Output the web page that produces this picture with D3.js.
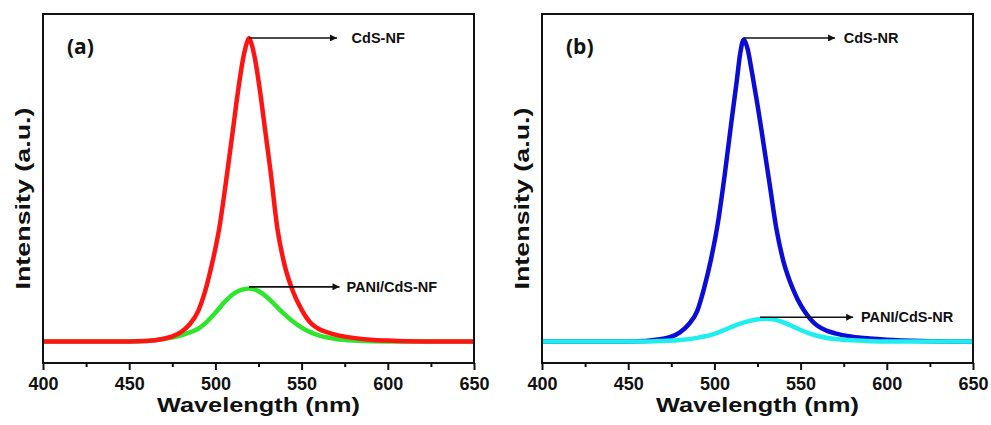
<!DOCTYPE html>
<html>
<head>
<meta charset="utf-8">
<script src="https://cdn.jsdelivr.net/npm/d3@7"></script>
<style>
  body { margin: 0; background: #fff; }
</style>
</head>
<body>
<svg id="chart"></svg>
<script>
// Panel (a): CdS nanoflowers
const nfRedX = [400, 420, 440, 460, 470, 475, 480, 485, 490, 494, 498, 502, 506, 510, 513, 516, 518, 519.5, 521, 523, 526, 529, 532, 536, 540, 545, 550, 553, 556, 560, 565, 570, 580, 590, 600, 620, 650];
const nfRedY = [0, 0, 0, 0.002, 0.009, 0.017, 0.031, 0.056, 0.10, 0.165, 0.255, 0.365, 0.52, 0.69, 0.82, 0.93, 0.98, 1.0, 0.98, 0.93, 0.82, 0.69, 0.56, 0.37, 0.255, 0.165, 0.105, 0.077, 0.057, 0.041, 0.03, 0.022, 0.012, 0.006, 0.003, 0, 0];
const nfGreenX = [400, 440, 460, 470, 480, 485, 490, 495, 500, 505, 510, 515, 520, 525, 530, 535, 540, 545, 550, 555, 560, 570, 580, 600, 650];
const nfGreenY = [0, 0, 0.002, 0.008, 0.02, 0.03, 0.042, 0.065, 0.095, 0.128, 0.155, 0.17, 0.175, 0.166, 0.146, 0.118, 0.09, 0.066, 0.046, 0.031, 0.02, 0.008, 0.003, 0, 0];

// Panel (b): CdS nanorods
const nrBlueX = [400, 440, 460, 465, 470, 475, 480, 485, 490, 494, 498, 502, 506, 510, 513, 515, 517, 519, 522, 525, 528, 532, 536, 540, 544, 548, 552, 556, 560, 565, 570, 580, 590, 600, 620, 650];
const nrBlueY = [0, 0, 0.002, 0.005, 0.009, 0.016, 0.03, 0.056, 0.10, 0.175, 0.27, 0.39, 0.55, 0.73, 0.86, 0.95, 0.995, 0.97, 0.88, 0.78, 0.67, 0.52, 0.37, 0.265, 0.195, 0.142, 0.102, 0.072, 0.051, 0.036, 0.027, 0.016, 0.01, 0.006, 0.002, 0];
const nrCyanX = [400, 460, 470, 480, 490, 500, 505, 510, 515, 520, 525, 530, 535, 540, 545, 550, 555, 560, 570, 580, 600, 650];
const nrCyanY = [0, 0, 0.002, 0.005, 0.012, 0.025, 0.036, 0.048, 0.059, 0.067, 0.073, 0.075, 0.072, 0.063, 0.051, 0.038, 0.027, 0.018, 0.008, 0.004, 0, 0];

// Axis ticks and labels
const majorTicks = [400, 450, 500, 550, 600, 650];
const minorTicks = [425, 475, 525, 575, 625];

// Annotations: label, arrow start (wavelength, intensity), arrow end wavelength, text wavelength
const nfLabels = ["CdS-NF", "PANI/CdS-NF"];
const nfArrowFrom = [[519.5, 1.0], [519.5, 0.18]];
const nfArrowTo = [570.5, 572];
const nfTextAt = [579, 576];

const nrLabels = ["CdS-NR", "PANI/CdS-NR"];
const nrArrowFrom = [[517, 1.0], [526.5, 0.08]];
const nrArrowTo = [570, 580.5];
const nrTextAt = [575, 585];

const width = 991, height = 425;
const plotTop = 14, plotBottom = 363, plotW = 431;
const font = "'Liberation Sans', Arial, sans-serif";

const svg = d3.select("#chart")
  .attr("width", width)
  .attr("height", height)
  .style("background", "#fff");

const defs = svg.append("defs");
defs.append("marker")
  .attr("id", "arrow")
  .attr("viewBox", "0 0 10 10")
  .attr("refX", 10)
  .attr("refY", 5)
  .attr("markerWidth", 10)
  .attr("markerHeight", 7)
  .attr("markerUnits", "userSpaceOnUse")
  .attr("orient", "auto")
  .append("path")
  .attr("d", "M0,0 L10,5 L0,10 z")
  .attr("fill", "#111");

function drawPanel(left, id, letter, series, labels, arrowFrom, arrowTo, textAt) {
  const x = d3.scaleLinear().domain([400, 650]).range([left, left + plotW]);
  const y = d3.scaleLinear().domain([-0.0708, 1.079]).range([plotBottom, plotTop]);

  defs.append("clipPath").attr("id", "clip-" + id)
    .append("rect")
    .attr("x", left).attr("y", plotTop)
    .attr("width", plotW).attr("height", plotBottom - plotTop);

  const line = d3.line()
    .x(d => x(d[0]))
    .y(d => y(d[1]))
    .curve(d3.curveMonotoneX);

  const g = svg.append("g").attr("clip-path", `url(#clip-${id})`);
  series.forEach(s => {
    const pts = s.xs.map((v, i) => [v, s.ys[i]]);
    g.append("path")
      .datum(pts)
      .attr("d", line)
      .attr("fill", "none")
      .attr("stroke", s.color)
      .attr("stroke-width", 4.5)
      .attr("stroke-linejoin", "round");
  });

  // Frame
  svg.append("rect")
    .attr("x", left).attr("y", plotTop)
    .attr("width", plotW).attr("height", plotBottom - plotTop)
    .attr("fill", "none")
    .attr("stroke", "#111")
    .attr("stroke-width", 2);

  // Bottom axis with major and minor ticks
  const ax = svg.append("g")
    .attr("transform", `translate(0,${plotBottom})`)
    .call(d3.axisBottom(x).tickValues(majorTicks).tickSize(7).tickPadding(7).tickFormat(d3.format("d")));
  ax.select(".domain").remove();
  ax.selectAll("line").attr("stroke", "#111").attr("stroke-width", 2);
  ax.selectAll("text")
    .attr("fill", "#111")
    .attr("font-family", font)
    .attr("font-weight", "bold")
    .attr("font-size", 18);

  const axm = svg.append("g")
    .attr("transform", `translate(0,${plotBottom})`)
    .call(d3.axisBottom(x).tickValues(minorTicks).tickSize(4).tickFormat(""));
  axm.select(".domain").remove();
  axm.selectAll("line").attr("stroke", "#111").attr("stroke-width", 2);

  // Axis titles
  svg.append("text")
    .text("Wavelength (nm)")
    .attr("x", left + plotW / 2)
    .attr("y", 412)
    .attr("text-anchor", "middle")
    .attr("font-family", font)
    .attr("font-weight", "bold")
    .attr("font-size", 21)
    .attr("textLength", 203)
    .attr("lengthAdjust", "spacingAndGlyphs")
    .attr("fill", "#111");

  svg.append("text")
    .text("Intensity (a.u.)")
    .attr("transform", `translate(${left - 13},${(plotTop + plotBottom) / 2 + 10}) rotate(-90)`)
    .attr("text-anchor", "middle")
    .attr("font-family", font)
    .attr("font-weight", "bold")
    .attr("font-size", 21)
    .attr("textLength", 182)
    .attr("lengthAdjust", "spacingAndGlyphs")
    .attr("fill", "#111");

  // Panel letter
  svg.append("text")
    .text(letter)
    .attr("x", left + 24)
    .attr("y", 54)
    .attr("font-family", "'Open Sans', sans-serif")
    .attr("font-weight", "bold")
    .attr("font-size", 21)
    .attr("fill", "#111");

  // Arrows and labels
  labels.forEach((lab, i) => {
    const yy = y(arrowFrom[i][1]);
    svg.append("line")
      .attr("x1", x(arrowFrom[i][0]))
      .attr("x2", x(arrowTo[i]))
      .attr("y1", yy)
      .attr("y2", yy)
      .attr("stroke", "#111")
      .attr("stroke-width", 1.6)
      .attr("marker-end", "url(#arrow)");
    svg.append("text")
      .text(lab)
      .attr("x", x(textAt[i]))
      .attr("y", yy)
      .attr("dy", "0.35em")
      .attr("font-family", font)
      .attr("font-weight", "bold")
      .attr("font-size", 14.5)
      .attr("fill", "#111");
  });
}

drawPanel(43, "a", "(a)",
  [
    { xs: nfGreenX, ys: nfGreenY, color: "#2ee52e" },
    { xs: nfRedX, ys: nfRedY, color: "#ff1414" }
  ],
  nfLabels, nfArrowFrom, nfArrowTo, nfTextAt);

drawPanel(542, "b", "(b)",
  [
    { xs: nrBlueX, ys: nrBlueY, color: "#0c0cd8" },
    { xs: nrCyanX, ys: nrCyanY, color: "#1eeeee" }
  ],
  nrLabels, nrArrowFrom, nrArrowTo, nrTextAt);
</script>
</body>
</html>
